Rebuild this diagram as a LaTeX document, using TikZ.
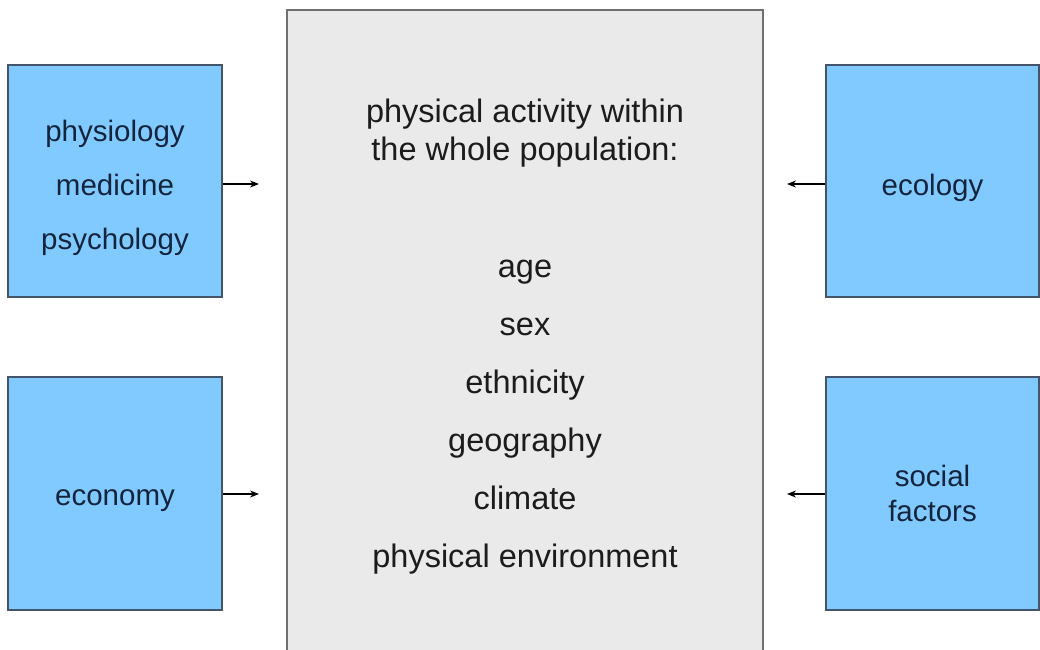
\documentclass[tikz,border=0pt]{standalone}
\usepackage{fontspec}
\setmainfont{Liberation Sans}
\usepackage{tikz}
\usetikzlibrary{arrows.meta}

\definecolor{fieldblue}{HTML}{80CAFF}
\definecolor{fieldedge}{HTML}{44556A}
\definecolor{fieldtext}{HTML}{15243D}
\definecolor{popgray}{HTML}{EAEAEA}
\definecolor{popedge}{HTML}{707070}
\definecolor{poptext}{HTML}{1C1C1C}

\newcommand{\fieldlift}[1][36pt]{\rule{0pt}{#1}}

\begin{document}
\begin{tikzpicture}[x=1pt, y=-1pt, >={Stealth[length=9pt, width=7pt]},
    field/.style={draw=fieldedge, line width=1.4pt, fill=fieldblue, text=fieldtext,
        align=center, font=\fontsize{29.5}{54}\selectfont},
    item/.style={anchor=base, text=poptext, font=\fontsize{32.5}{37}\selectfont}]
    \useasboundingbox (0,0) rectangle (1040,649);
    \clip (0,0) rectangle (1040,649);

    % central box
    \node[draw=popedge, line width=1.6pt, fill=popgray, minimum width=476pt, minimum height=670pt, anchor=north] (pop) at (525,9) {};
    \node[item] (title1) at (525,122) {physical activity within};
    \node[item] (title2) at (525,160) {the whole population:};
    \node[item] (age) at (525,277) {age};
    \node[item] (sex) at (525,335) {sex};
    \node[item] (ethn) at (525,393) {ethnicity};
    \node[item] (geo) at (525,451) {geography};
    \node[item] (clim) at (525,509) {climate};
    \node[item] (env) at (525,567) {physical environment};

    % fields around it
    \node[field, minimum width=214pt, minimum height=232pt] (phys) at (115,181) {\fieldlift physiology\\medicine\\psychology};
    \node[field, minimum width=214pt, minimum height=233pt] (econ) at (115,493.5) {\fieldlift[30pt]economy};
    \node[field, minimum width=213pt, minimum height=232pt] (eco) at (932.5,181) {\fieldlift ecology};
    \node[field, minimum width=213pt, minimum height=233pt, font=\fontsize{29.5}{35}\selectfont] (soc) at (932.5,493.5) {social\\factors};

    % arrows
    \coordinate (physin) at (259,184);
    \coordinate (econin) at (259,494);
    \coordinate (ecoin) at (787,184);
    \coordinate (socin) at (787,494);
    \draw[->, line width=1.1pt] (phys.east |- physin) -- (physin);
    \draw[->, line width=1.1pt] (econ.east |- econin) -- (econin);
    \draw[->, line width=1.1pt] (eco.west |- ecoin) -- (ecoin);
    \draw[->, line width=1.1pt] (soc.west |- socin) -- (socin);
\end{tikzpicture}
\end{document}
